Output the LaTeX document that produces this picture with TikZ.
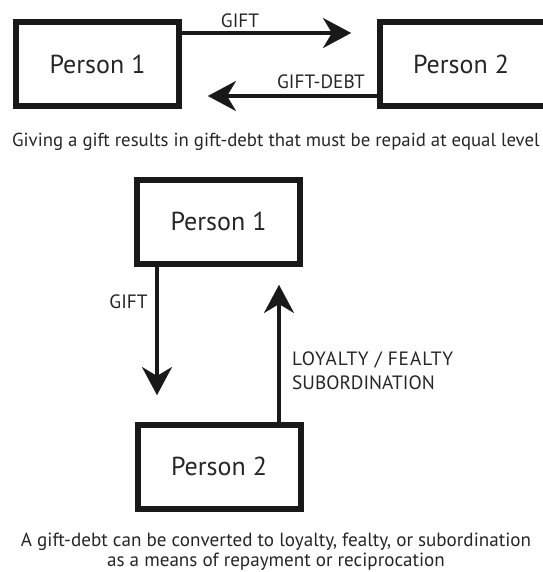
\documentclass[tikz,border=0pt]{standalone}
\usepackage{fontspec}
\setmainfont{PT Sans}
\newfontfamily\widesans[LetterSpace=5]{PT Sans}
\usetikzlibrary{arrows.meta}
\begin{document}
\begin{tikzpicture}[x=1pt,y=-1pt,
  personbox/.style={draw=black!90, line width=6pt, minimum width=163pt, minimum height=84pt, inner sep=0pt, font=\fontsize{26}{28}\selectfont, text=black!85},
  flow/.style={draw=black!90, line width=4.5pt, -{Stealth[length=28pt,width=30pt,inset=9pt,line width=0.01pt]}},
  lbl/.style={font=\fontsize{19.3}{21}\selectfont, text=black!85, inner sep=0pt},
  captext/.style={font=\fontsize{19.1}{20}\selectfont, text=black!85, inner sep=0pt, align=center}]
\useasboundingbox (0,0) rectangle (542,572);
% top diagram
\node[personbox] (a1) at (97.5,64) {Person 1};
\node[personbox, minimum width=170pt] (a2) at (464.5,64) {\hspace*{-7pt}Person 2};
\coordinate (t1) at (351,33);
\coordinate (t2) at (208,96);
\draw[flow] (a1.east |- t1) -- (t1);
\draw[flow] (a2.west |- t2) -- (t2);
\node[lbl] (g1) at (240,20.5) {GIFT};
\node[lbl] (gd) at (321,82) {GIFT-DEBT};
\node[captext, anchor=west, font=\fontsize{18.8}{20}\selectfont] (c1) at (12,142) {Giving a gift results in gift-debt that must be repaid at equal level};
% bottom diagram
\node[personbox] (b1) at (218.5,221.5) {Person 1};
\node[personbox] (b2) at (219,466.5) {Person 2};
\coordinate (d1) at (157,395);
\coordinate (u1) at (279,285);
\draw[flow] (b1.south -| d1) -- (d1);
\draw[flow] (b2.north -| u1) -- (u1);
\node[lbl] (g2) at (128.5,302) {GIFT};
\node[lbl, anchor=west, align=left] (ly) at (292,370.5) {{\widesans LOYALTY / FEALTY}\\[3pt]SUBORDINATION};
\node[captext] (c2) at (276,551.5) {A gift-debt can be converted to loyalty, fealty, or subordination\\as a means of repayment or reciprocation};
\end{tikzpicture}
\end{document}
